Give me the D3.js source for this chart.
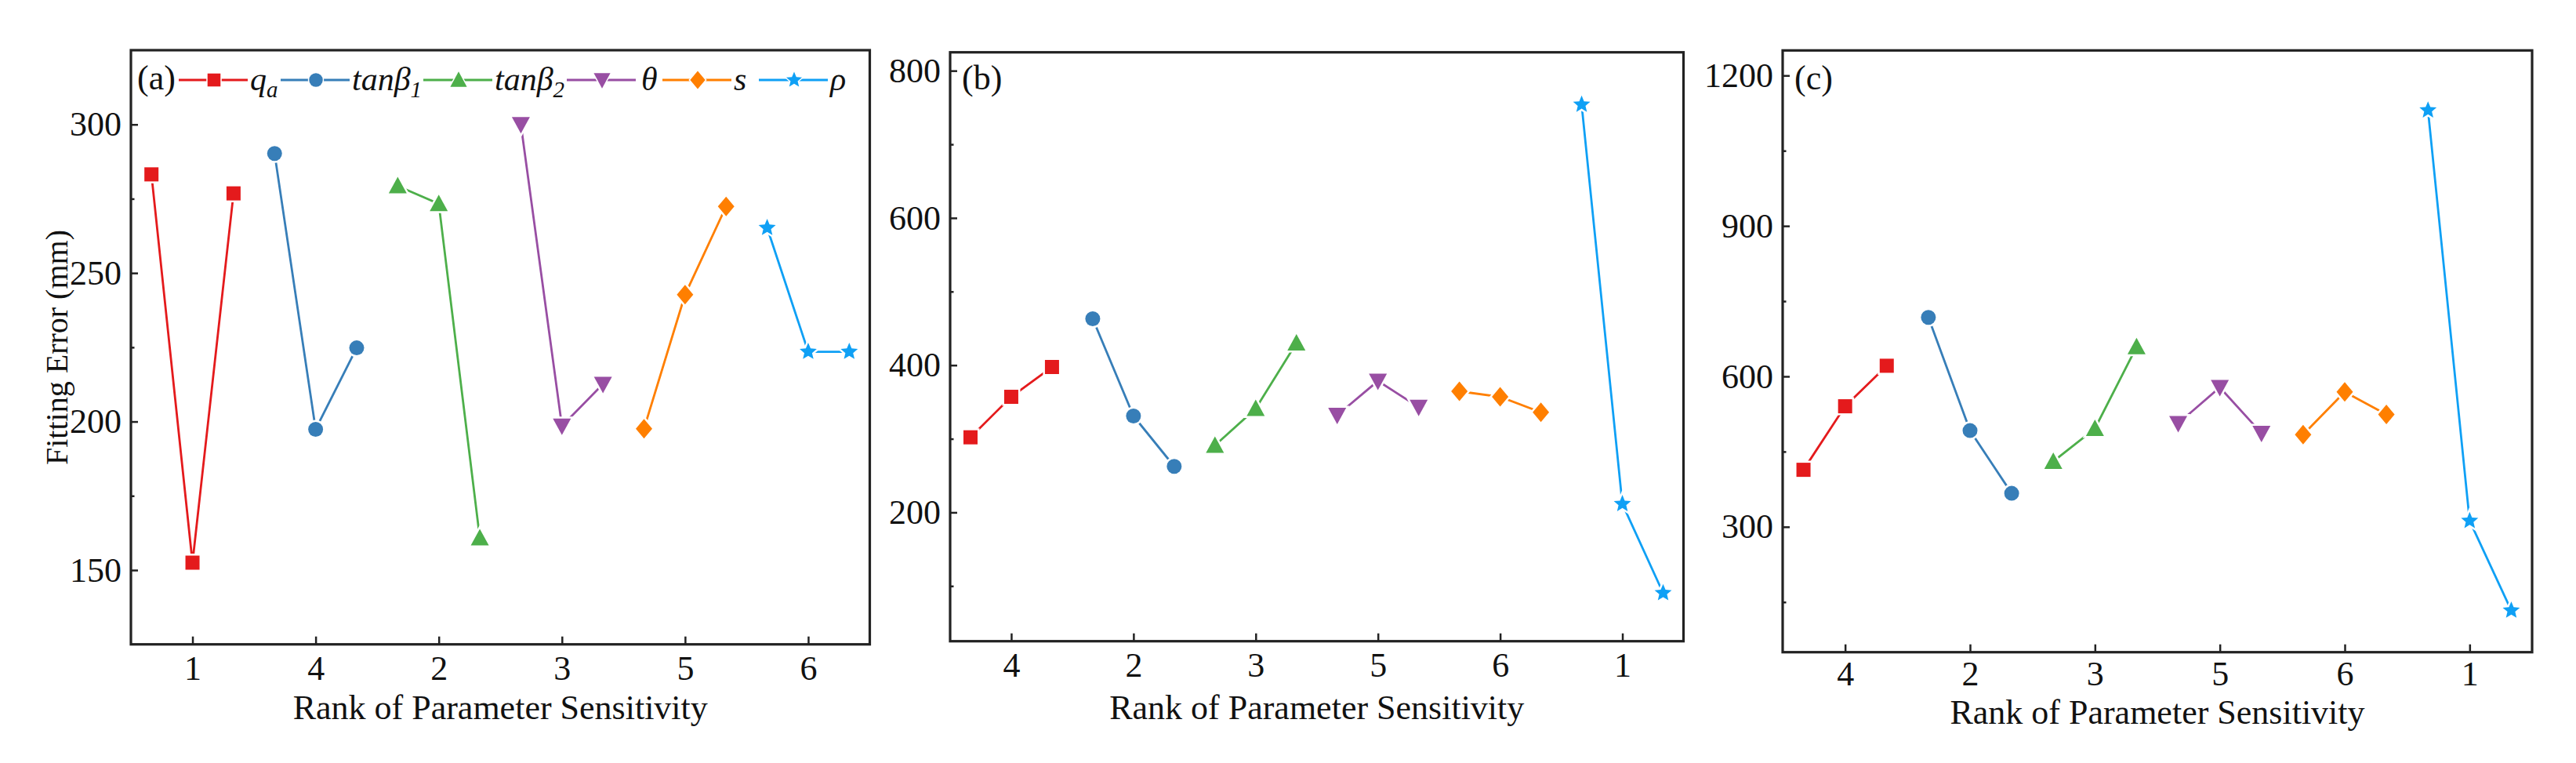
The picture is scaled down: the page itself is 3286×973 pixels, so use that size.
<!DOCTYPE html>
<html><head><meta charset="utf-8">
<script src="https://cdn.jsdelivr.net/npm/d3@7"></script>
<style>body{margin:0;background:#fff}</style>
</head><body><svg id="c" width="3286" height="973" xmlns="http://www.w3.org/2000/svg"></svg>
<script>
// ---- data ----
const seriesKeys = ["qa", "tanb1", "tanb2", "theta", "s", "rho"];
const seriesColors = ["#E41A1C", "#377EB8", "#4DAF4A", "#984EA3", "#FF7F00", "#0FA0F5"];
const seriesShapes = ["square", "circle", "triUp", "triDown", "diamond", "star"];
const rankLabelsA = ["1", "4", "2", "3", "5", "6"];
const rankLabelsBC = ["4", "2", "3", "5", "6", "1"];
const errorsA = [[283.2, 152.5, 276.8], [290.2, 197.4, 224.8], [279.3, 273.3, 160.8], [300, 198.5, 212.6], [197.6, 242.7, 272.4], [265.2, 223.5, 223.5]];
const errorsB = [[302, 357, 397.5], [463, 331, 262.5], [291, 341, 430], [332, 378.5, 343], [364.5, 357, 336], [754, 211.5, 90.5]];
const errorsC = [[413.7, 540.4, 621.2], [717.6, 491.9, 366.8], [430.4, 496, 658.8], [506.4, 578, 486.7], [484, 569, 524], [1130.6, 312, 133.2]];
const yMajorA = [150, 200, 250, 300], yMinorA = [175, 225, 275];
const yMajorB = [200, 400, 600, 800], yMinorB = [100, 300, 500, 700];
const yMajorC = [300, 600, 900, 1200], yMinorC = [150, 450, 750, 1050];
const yDomainA = [125, 325], yDomainB = [25, 825], yDomainC = [50, 1250];

// ---- layout ----
const FONT = "'Liberation Serif','Times New Roman',Times,serif";
const svg = d3.select("#c");
const panels = [
  {tag: "(a)", labels: rankLabelsA, data: errorsA, major: yMajorA, minor: yMinorA, dom: yDomainA, l: 167, r: 1109.5, t: 64, b: 821.7, titleY: 917, pad: 14},
  {tag: "(b)", labels: rankLabelsBC, data: errorsB, major: yMajorB, minor: yMinorB, dom: yDomainB, l: 1212, r: 2147.5, t: 66.7, b: 817.7, titleY: 917, pad: 14},
  {tag: "(c)", labels: rankLabelsBC, data: errorsC, major: yMajorC, minor: yMinorC, dom: yDomainC, l: 2274, r: 3230, t: 64.3, b: 831.7, titleY: 923, pad: 11}
];

function shapePath(type, k) {
  k = k || 1;
  const p = d3.path();
  if (type === "square") { const h = 9 * k; p.rect(-h, -h, 2 * h, 2 * h); }
  else if (type === "circle") { p.arc(0, 0, 9.5 * k, 0, 2 * Math.PI); }
  else if (type === "triUp") { const w = 11.5 * k, h = 10.5 * k; p.moveTo(0, -h * 1.1); p.lineTo(w, h * 0.9); p.lineTo(-w, h * 0.9); p.closePath(); }
  else if (type === "triDown") { const w = 11.5 * k, h = 10.5 * k; p.moveTo(0, h * 1.1); p.lineTo(w, -h * 0.9); p.lineTo(-w, -h * 0.9); p.closePath(); }
  else if (type === "diamond") { const w = 10.5 * k, h = 12.5 * k; p.moveTo(0, -h); p.lineTo(w, 0); p.lineTo(0, h); p.lineTo(-w, 0); p.closePath(); }
  else if (type === "star") {
    const R = 11.5 * k, r = R * 0.45;
    for (let i = 0; i < 10; i++) {
      const a = -Math.PI / 2 + i * Math.PI / 5, rr = i % 2 ? r : R;
      const x = rr * Math.cos(a), y = rr * Math.sin(a);
      if (i === 0) p.moveTo(x, y); else p.lineTo(x, y);
    }
    p.closePath();
  }
  return p.toString();
}

panels.forEach((P, pi) => {
  const g = svg.append("g");
  const x = d3.scaleLinear().domain([-0.5, 5.5]).range([P.l, P.r]);
  const y = d3.scaleLinear().domain(P.dom).range([P.b, P.t]);

  // axes
  const yAx = g.append("g").attr("transform", `translate(${P.l},0)`)
    .call(d3.axisLeft(y).tickValues(P.major).tickSize(-9).tickPadding(12).tickFormat(d3.format("d")));
  const yMin = g.append("g").attr("transform", `translate(${P.l},0)`)
    .call(d3.axisLeft(y).tickValues(P.minor).tickSize(-4.5).tickFormat(""));
  const xAx = g.append("g").attr("transform", `translate(0,${P.b})`)
    .call(d3.axisBottom(x).tickValues(d3.range(6)).tickFormat(i => P.labels[i]).tickSize(-10).tickPadding(P.pad));
  [yAx, yMin, xAx].forEach(a => {
    a.select(".domain").remove();
    a.selectAll(".tick line").attr("stroke", "#222").attr("stroke-width", 2.5);
    a.selectAll("text").attr("font-family", FONT).attr("font-size", 44).attr("fill", "#111");
  });

  // frame
  g.append("rect").attr("x", P.l).attr("y", P.t).attr("width", P.r - P.l).attr("height", P.b - P.t)
    .attr("fill", "none").attr("stroke", "#222").attr("stroke-width", 3.2);

  // series
  P.data.forEach((vals, si) => {
    const pts = vals.map((v, j) => [x(si + (j - 1) / 3), y(v)]);
    g.append("path").attr("d", d3.line()(pts)).attr("fill", "none")
      .attr("stroke", seriesColors[si]).attr("stroke-width", 2.8);
    g.selectAll(null).data(pts).enter().append("path")
      .attr("transform", d => `translate(${d[0]},${d[1]})`)
      .attr("d", shapePath(seriesShapes[si]))
      .attr("fill", seriesColors[si]).attr("stroke", "#fff").attr("stroke-width", 5)
      .style("paint-order", "stroke");
  });

  // x title
  g.append("text").attr("x", (P.l + P.r) / 2).attr("y", P.titleY).attr("text-anchor", "middle")
    .attr("font-family", FONT).attr("font-size", 44).attr("fill", "#111").text("Rank of Parameter Sensitivity");

  // panel tag
  g.append("text").attr("x", P.l + (pi === 0 ? 8 : 15)).attr("y", 114)
    .attr("font-family", FONT).attr("font-size", 44).attr("fill", "#111").text(P.tag);
});

// y title
svg.append("text").attr("transform", "translate(86,443) rotate(-90)").attr("text-anchor", "middle")
  .attr("font-family", FONT).attr("font-size", 40).attr("fill", "#111").text("Fitting Error (mm)");

// legend in panel (a)
const legendParts = [
  [["q", ""], ["a", "sub"]],
  [["tanβ", ""], ["1", "sub"]],
  [["tanβ", ""], ["2", "sub"]],
  [["θ", ""]],
  [["s", ""]],
  [["ρ", ""]]
];
const legendStarts = [228, 358, 540, 723, 845, 968];
const ly = 102;
const lg = svg.append("g");
seriesKeys.forEach((k, si) => {
  const lx = legendStarts[si];
  lg.append("line").attr("x1", lx).attr("x2", lx + 88).attr("y1", ly).attr("y2", ly)
    .attr("stroke", seriesColors[si]).attr("stroke-width", 3);
  lg.append("path").attr("transform", `translate(${lx + 45},${ly})`).attr("d", shapePath(seriesShapes[si], 0.92))
    .attr("fill", seriesColors[si]).attr("stroke", "#fff").attr("stroke-width", 3).style("paint-order", "stroke");
  const t = lg.append("text").attr("x", lx + 91 + (si === 3 ? 4 : 0)).attr("y", 115)
    .attr("font-family", FONT).attr("font-size", 42).attr("font-style", "italic").attr("fill", "#111");
  legendParts[si].forEach(([s, kind]) => {
    if (kind === "sub") t.append("tspan").attr("font-size", 29).attr("dy", 9).text(s);
    else t.append("tspan").text(s);
  });
});
</script>
</body></html>
